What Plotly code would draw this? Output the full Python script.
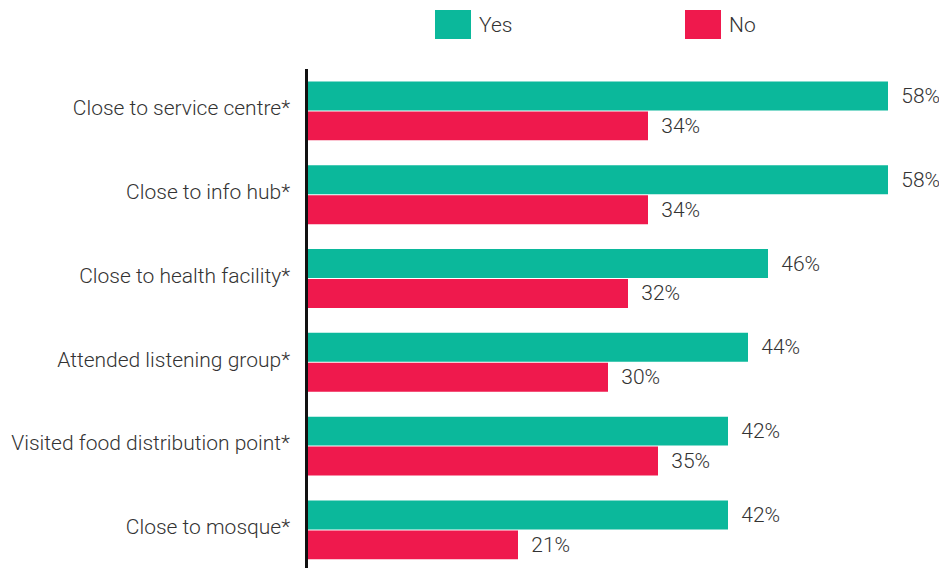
import plotly.graph_objects as go

categories = [
    "Close to service centre*",
    "Close to info hub*",
    "Close to health facility*",
    "Attended listening group*",
    "Visited food distribution point*",
    "Close to mosque*",
]
yes_values = [58, 58, 46, 44, 42, 42]
no_values = [34, 34, 32, 30, 35, 21]

YES_COLOR = "#0bb89b"
NO_COLOR = "#ef194d"
TEXT_COLOR = "#333333"
FONT = dict(family="Roboto", size=21, color=TEXT_COLOR, weight=300)

W, H = 939, 568
ML, MT = 308, 69
PW, PH = W - ML, H - MT

fig = go.Figure()
for name, vals, color in [("Yes", yes_values, YES_COLOR), ("No", no_values, NO_COLOR)]:
    fig.add_trace(go.Bar(
        name=name,
        y=categories,
        x=vals,
        orientation="h",
        marker=dict(color=color, line=dict(width=0)),
        texttemplate="\u00a0\u00a0%{x}%",
        textposition="outside",
        constraintext="none",
        textfont=FONT,
        cliponaxis=False,
        showlegend=False,
    ))


def px_x(p):
    return (p - ML) / PW


def px_y(p):
    return (H - p) / PH


# Legend drawn as large swatches above the plot
shapes = []
annotations = []
for label, color, x0 in [("Yes", YES_COLOR, 435), ("No", NO_COLOR, 685)]:
    shapes.append(dict(
        type="rect", xref="paper", yref="paper",
        x0=px_x(x0), x1=px_x(x0 + 36), y0=px_y(39), y1=px_y(10),
        fillcolor=color, line=dict(width=0),
    ))
    annotations.append(dict(
        text=label, xref="paper", yref="paper",
        x=px_x(x0 + 42), y=px_y(25), xanchor="left", yanchor="middle",
        showarrow=False, font=FONT,
    ))

fig.update_layout(
    width=W, height=H,
    margin=dict(l=ML, r=0, t=MT, b=0),
    barmode="group",
    bargap=0.285,
    bargroupgap=0.035,
    plot_bgcolor="white",
    paper_bgcolor="white",
    shapes=shapes,
    annotations=annotations,
    xaxis=dict(
        range=[0, PW / 10],
        showgrid=False, zeroline=False, showticklabels=False,
        showline=False, fixedrange=True,
    ),
    yaxis=dict(
        range=[-0.5 + PH / 83.8, -0.5],
        showgrid=False, zeroline=False,
        showline=True, linecolor="#111111", linewidth=2.5,
        ticks="", tickfont=FONT, ticklabelstandoff=11,
        ticklabelshift=3,
        fixedrange=True,
    ),
)

fig.write_html("out.html")
